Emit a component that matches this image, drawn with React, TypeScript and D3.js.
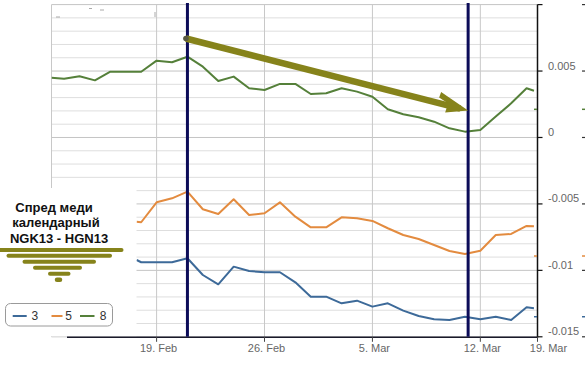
import React from "react";
import * as d3 from "d3";

// ---- data ----
const dailyDates = [
  "2013-02-13", "2013-02-14", "2013-02-15", "2013-02-16", "2013-02-17", "2013-02-18",
  "2013-02-19", "2013-02-20", "2013-02-21", "2013-02-22", "2013-02-23", "2013-02-24",
  "2013-02-25", "2013-02-26", "2013-02-27", "2013-02-28", "2013-03-01", "2013-03-02",
  "2013-03-03", "2013-03-04", "2013-03-05", "2013-03-06", "2013-03-07", "2013-03-08",
  "2013-03-09", "2013-03-10", "2013-03-11", "2013-03-12", "2013-03-13", "2013-03-14",
  "2013-03-15",
];
const greenDates = ["2013-02-12T04:22", ...dailyDates, "2013-03-15T11:30"];
const otherDates = ["2013-02-17T16:50", ...dailyDates.slice(5), "2013-03-15T11:30"];

const series8 = [
  0.0045, 0.00442, 0.00461, 0.0043, 0.00495, 0.00495, 0.00495, 0.00578, 0.00566, 0.00608,
  0.00533, 0.00425, 0.00458, 0.0037, 0.00357, 0.00403, 0.00403, 0.00327, 0.00333, 0.0037,
  0.00345, 0.00307, 0.00212, 0.00175, 0.00152, 0.00119, 0.00069, 0.00044, 0.00056, 0.00157,
  0.00257, 0.0037, 0.00352,
];
const series5 = [
  -0.00634, -0.00638, -0.00488, -0.00458, -0.00408, -0.0054, -0.00576, -0.00465, -0.00583,
  -0.0057, -0.00488, -0.00596, -0.00676, -0.00676, -0.00601, -0.00608, -0.00628, -0.00683,
  -0.00734, -0.00764, -0.00809, -0.00854, -0.00877, -0.00852, -0.00734, -0.00726, -0.00666,
  -0.00668,
];
const series3 = [
  -0.00922, -0.00939, -0.00939, -0.00939, -0.00909, -0.01035, -0.01105, -0.00972, -0.01005,
  -0.01014, -0.01014, -0.0109, -0.01198, -0.01198, -0.01248, -0.01228, -0.01273, -0.01248,
  -0.01303, -0.01343, -0.01368, -0.01373, -0.01349, -0.01368, -0.01349, -0.01373, -0.01278,
  -0.01285,
];

const xTickDates = ["2013-02-19", "2013-02-26", "2013-03-05", "2013-03-12"];
const xTickLabels = ["19. Feb", "26. Feb", "5. Mar", "12. Mar"];
const xEndLabel = "19. Mar";
const yTicks = [0.01, 0.005, 0, -0.005, -0.01, -0.015];
const yTickLabels = ["", "0.005", "0", "-0.005", "-0.01", "-0.015"];

const vLineDates = ["2013-02-21T00:00", "2013-03-11T05:00"];
const arrowFrom = { date: "2013-02-21T00:00", value: 0.00745 };
const arrowTo = { date: "2013-03-11T05:00", value: 0.00203 };
const axisMarkers = [
  { value: 0.00212, color: "#55803a" },
  { value: -0.00892, color: "#e38b3f" },
  { value: -0.01349, color: "#3d6a99" },
];

const titleLines = ["Спред меди", "календарный", "NGK13 - HGN13"];
const legendNames = ["3", "5", "8"];
const COLORS = { s3: "#3d6a99", s5: "#e38b3f", s8: "#55803a" };
const OLIVE = "#86831b";

const parse = (s: string) => new Date(s.length === 10 ? s + "T00:00:00Z" : s + ":00Z");

export default function App() {
  const left = 51.5, right = 537.5, top = 4.6, bottom = 336.8;
  const x = d3
    .scaleUtc()
    .domain([parse("2013-02-12T04:22"), parse("2013-03-15T17:00")])
    .range([left, right]);
  const y = d3.scaleLinear().domain([-0.015, 0.01]).range([bottom, top]);

  const line = d3
    .line<[Date, number]>()
    .x((d) => x(d[0]))
    .y((d) => y(d[1]));

  const mk = (dates: string[], vals: number[]) =>
    line(vals.map((v, i) => [parse(dates[i]), v] as [Date, number])) || "";

  const minor = y.ticks(25);
  const font = "Arial, 'Liberation Sans', sans-serif";

  const ax1 = x(parse(arrowFrom.date)) - 1.5, ay1 = y(arrowFrom.value);
  const ax2 = x(parse(arrowTo.date)), ay2 = y(arrowTo.value);
  const ang = Math.atan2(ay2 - ay1, ax2 - ax1);

  const barRows = [
    { x1: 0, x2: 121.5, y: 250 },
    { x1: 8.5, x2: 110, y: 255.7 },
    { x1: 24.5, x2: 94, y: 261.8 },
    { x1: 35, x2: 80, y: 267.7 },
    { x1: 50, x2: 68.5, y: 273.7 },
    { x1: 57, x2: 60, y: 279.7 },
  ];

  return (
    <svg
      width={585}
      height={367}
      style={{ position: "absolute", left: 0, top: 0, background: "#fff" }}
      fontFamily={font}
    >
      <defs>
        <clipPath id="plot">
          <rect x={left} y={top - 2} width={right - left} height={bottom - top + 2} />
        </clipPath>
      </defs>
      <rect x={0} y={0} width={585} height={367} fill="#fff" />
      {/* horizontal grid */}
      {minor.map((t, i) => {
        const major = Math.abs(Math.round(t * 1000) % 5) === 0;
        return (
          <line
            key={"g" + i}
            x1={left}
            x2={right}
            y1={y(t)}
            y2={y(t)}
            stroke={major ? "#c4c4c4" : "#dedede"}
            strokeWidth={1}
          />
        );
      })}
      {/* vertical grid */}
      <line x1={left} x2={left} y1={top} y2={bottom} stroke="#c8c8c8" />
      {xTickDates.map((d, i) => (
        <line key={"v" + i} x1={x(parse(d))} x2={x(parse(d))} y1={top} y2={bottom} stroke="#c8c8c8" />
      ))}
      {/* faint marks top left */}
      <g stroke="#aaa" strokeWidth={1}>
        <line x1={56} x2={60} y1={17} y2={17} />
        <line x1={89} x2={92} y1={8.5} y2={8.5} />
        <line x1={100} x2={104} y1={10} y2={10} />
        <line x1={155} x2={155} y1={12} y2={17} />
      </g>
      {/* series */}
      <g clipPath="url(#plot)" fill="none" strokeWidth={2} strokeLinejoin="round">
        <path d={mk(greenDates, series8)} stroke={COLORS.s8} />
        <path d={mk(otherDates, series5)} stroke={COLORS.s5} />
        <path d={mk(otherDates, series3)} stroke={COLORS.s3} />
      </g>
      {/* white cover for title block */}
      <rect x={0} y={188} width={136.5} height={bottom - 188 - 0.5} fill="#fff" />
      {/* axes */}
      <line x1={67} x2={right} y1={bottom + 0.5} y2={bottom + 0.5} stroke="#1a1a2a" strokeWidth={1.5} />
      <line x1={right} x2={right} y1={top} y2={bottom + 1} stroke="#111" strokeWidth={1.5} />
      {yTicks.map((t, i) => (
        <g key={"yt" + i}>
          <line x1={right} x2={right + 5} y1={y(t)} y2={y(t)} stroke="#111" strokeWidth={1.2} />
          <line x1={582} x2={585} y1={y(t)} y2={y(t)} stroke="#333" strokeWidth={1.2} />
          {yTickLabels[i] && (
            <text x={548} y={y(t) - 1.5} fontSize={11} fill="#666">
              {yTickLabels[i]}
            </text>
          )}
        </g>
      ))}
      {axisMarkers.map((m, i) => (
        <g key={"am" + i}>
          <line x1={534} x2={537} y1={y(m.value)} y2={y(m.value)} stroke={m.color} strokeWidth={1.5} />
          <line x1={582} x2={585} y1={y(m.value)} y2={y(m.value)} stroke={m.color} strokeWidth={1.5} />
        </g>
      ))}
      {xTickDates.map((d, i) => (
        <g key={"xt" + i}>
          <line x1={x(parse(d))} x2={x(parse(d))} y1={bottom} y2={bottom + 5} stroke="#444" />
          <text x={x(parse(d)) + 2} y={352} fontSize={11} fill="#666" textAnchor="middle">
            {xTickLabels[i]}
          </text>
        </g>
      ))}
      <line x1={right} x2={right} y1={bottom} y2={bottom + 5} stroke="#444" />
      <text x={right + 11} y={352} fontSize={11} fill="#666" textAnchor="middle">
        {xEndLabel}
      </text>
      {/* navy vertical lines */}
      {vLineDates.map((d, i) => (
        <line
          key={"nv" + i}
          x1={x(parse(d))}
          x2={x(parse(d))}
          y1={top - 1.5}
          y2={bottom}
          stroke="#0c0c58"
          strokeWidth={3}
        />
      ))}
      {/* arrow */}
      <g>
        <line
          x1={ax1}
          y1={ay1}
          x2={ax2 - 8 * Math.cos(ang)}
          y2={ay2 - 8 * Math.sin(ang)}
          stroke={OLIVE}
          strokeWidth={6.5}
        />
        <circle cx={ax1} cy={ay1} r={2.8} fill="#5a5a40" />
        <polygon
          points={`${ax2},${ay2} ${ax2 - 27},${ay2 - 18.5} ${ax2 - 29},${ay2 - 13} ${ax2 - 20},${ay2 - 7} ${ax2 - 23},${ay2 + 2} `}
          fill={OLIVE}
        />
      </g>
      {/* title */}
      {titleLines.map((t, i) => (
        <text
          key={"tl" + i}
          x={[54, 56, 59][i]}
          y={[211.5, 227, 243.3][i]}
          fontSize={13}
          fontWeight="bold"
          fill="#111"
          textAnchor="middle"
        >
          {t}
        </text>
      ))}
      {barRows.map((b, i) => (
        <line
          key={"br" + i}
          x1={b.x1}
          x2={b.x2}
          y1={b.y}
          y2={b.y}
          stroke={OLIVE}
          strokeWidth={i === 5 ? 4.5 : 4}
          strokeLinecap="round"
        />
      ))}
      {/* legend */}
      <rect x={5.5} y={303.5} width={107} height={22.5} rx={5} fill="#fff" stroke="#9a9a9a" />
      {[
        { c: COLORS.s3, x1: 12.7, x2: 26.7, tx: 31.5 },
        { c: COLORS.s5, x1: 51.5, x2: 62.5, tx: 65.3 },
        { c: COLORS.s8, x1: 80, x2: 94.5, tx: 99.8 },
      ].map((l, i) => (
        <g key={"lg" + i}>
          <line x1={l.x1} x2={l.x2} y1={316} y2={316} stroke={l.c} strokeWidth={2} />
          <text x={l.tx} y={320.2} fontSize={12} fill="#333">
            {legendNames[i]}
          </text>
        </g>
      ))}
    </svg>
  );
}
